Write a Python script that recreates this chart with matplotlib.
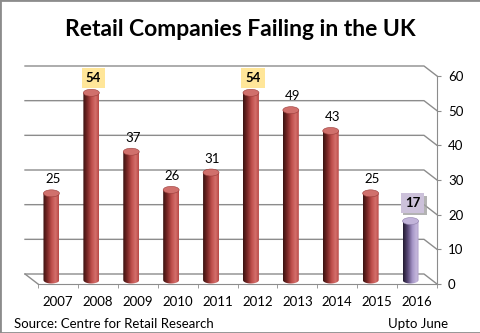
import numpy as np
import matplotlib
matplotlib.use("Agg")
from matplotlib import pyplot as plt
from matplotlib.colors import LinearSegmentedColormap
from matplotlib.patches import Ellipse, Polygon, Rectangle
from matplotlib.transforms import ScaledTranslation
from matplotlib import patheffects

plt.rcParams['font.family'] = ['Lato', 'DejaVu Sans']

# data
years = ['2007', '2008', '2009', '2010', '2011', '2012', '2013', '2014', '2015', '2016']
failures = [25, 54, 37, 26, 31, 54, 49, 43, 25, 17]
y_ticks = [0, 10, 20, 30, 40, 50, 60]
title = "Retail Companies Failing in the UK"
source = "Source: Centre for Retail Research"
note = "Upto June"

DPI = 100
fig = plt.figure(figsize=(4.81, 3.33), dpi=DPI)
fig.patch.set_facecolor('white')
fig.patches.append(Rectangle((0, 0), 1, 1, transform=fig.transFigure,
                             fill=False, ec='#8c8c8c', lw=2))

ax = fig.add_axes([38 / 481, 49 / 333, 399 / 481, 208 / 333])
ax.set_xlim(-0.5, 9.5)
ax.set_ylim(0, 60)
ax.patch.set_visible(False)

# 3d look: back wall offset and bar offset (pixels)
px_x = 399 / 10.0
px_y = 208 / 60.0
bdx, bdy = -13 / px_x, 10 / px_y
bar_trans = ax.transData + ScaledTranslation(-6.5 / DPI, 4 / DPI, fig.dpi_scale_trans)

grid_c = '#8c8c8c'
for v in y_ticks:
    ax.plot([-0.5 + bdx, 9.5 + bdx, 9.5], [v + bdy, v + bdy, v],
            color=grid_c, lw=1, clip_on=False, zorder=1)
ax.plot([-0.5 + bdx, -0.5], [bdy, 0], color=grid_c, lw=1, clip_on=False, zorder=1)

red_cmap = LinearSegmentedColormap.from_list('r', [
    (0.0, '#3a1312'), (0.25, '#762624'), (0.55, '#c0504d'),
    (0.8, '#d4706c'), (1.0, '#b84845')])
purple_cmap = LinearSegmentedColormap.from_list('p', [
    (0.0, '#221a30'), (0.3, '#5a4a78'), (0.6, '#a797c8'),
    (0.85, '#c4b7dc'), (1.0, '#ad9ec9')])

bw = 0.4
eh = 7 / px_y
grad = np.linspace(0, 1, 64).reshape(1, -1)
t = np.linspace(np.pi, 2 * np.pi, 40)
for i, v in enumerate(failures):
    last = i == len(failures) - 1
    cmap = purple_cmap if last else red_cmap
    top_c = '#c2b4da' if last else '#d0706c'
    x0, x1 = i - bw / 2, i + bw / 2
    pts = [(x0, v), (x0, 0)] + [(i + bw / 2 * np.cos(a), eh / 2 * np.sin(a)) for a in t] + [(x1, v)]
    clip = Polygon(pts, closed=True, transform=bar_trans, fc='none', ec='none')
    ax.add_patch(clip)
    im = ax.imshow(grad, cmap=cmap, aspect='auto', extent=[x0, x1, -eh, v],
                   transform=bar_trans, zorder=3, interpolation='bilinear')
    im.set_clip_path(clip)
    ax.add_patch(Ellipse((i, v), bw, eh, transform=bar_trans, fc=top_c,
                         ec='#9a3d3a' if not last else '#8f80aa', lw=0.4, zorder=4))

    # data labels
    if v == 54:
        ax.annotate(str(v), (i, v), xycoords=bar_trans, xytext=(1.5, 10.5),
                    textcoords='offset points', ha='center', va='center',
                    fontsize=9.5, fontweight='bold', zorder=6,
                    bbox=dict(boxstyle='square,pad=0.3', fc='#ffe699', ec='none'))
    elif last:
        lab = ax.annotate(str(v), (i, v), xycoords=bar_trans, xytext=(1.5, 13),
                          textcoords='offset points', ha='center', va='center',
                          fontsize=9.5, fontweight='bold', zorder=6,
                          bbox=dict(boxstyle='square,pad=0.3', fc='#ccc1da', ec='none'))
        lab.get_bbox_patch().set_path_effects([
            patheffects.SimplePatchShadow(offset=(1.8, -1.8), shadow_rgbFace='#a0a0a0', alpha=0.8),
            patheffects.Normal()])
    else:
        ax.annotate(str(v), (i, v), xycoords=bar_trans, xytext=(1, 10),
                    textcoords='offset points', ha='center', va='center',
                    fontsize=9.5, zorder=6)

# axes
for s in ['top', 'left']:
    ax.spines[s].set_visible(False)
ax.spines['bottom'].set_color(grid_c)
ax.spines['right'].set_color(grid_c)
ax.yaxis.tick_right()
ax.set_yticks(y_ticks)
ax.tick_params(axis='y', length=3, color=grid_c, pad=5, labelsize=9.5)
ax.set_xticks(range(len(years)), years)
ax.set_xticks(np.arange(-0.5, 10, 1), minor=True)
ax.tick_params(axis='x', which='major', length=0, pad=9, labelsize=9.5)
ax.tick_params(axis='x', which='minor', length=3, color=grid_c)

fig.text(0.5, 1 - 29 / 333, title, ha='center', va='center',
         fontsize=16.5, fontweight='bold')
fig.text(14 / 481, 1 - 324 / 333, source, ha='left', va='center', fontsize=9.5)
fig.text(388 / 481, 1 - 324 / 333, note, ha='left', va='center', fontsize=9.5)

fig.savefig('out.png', dpi=DPI)
